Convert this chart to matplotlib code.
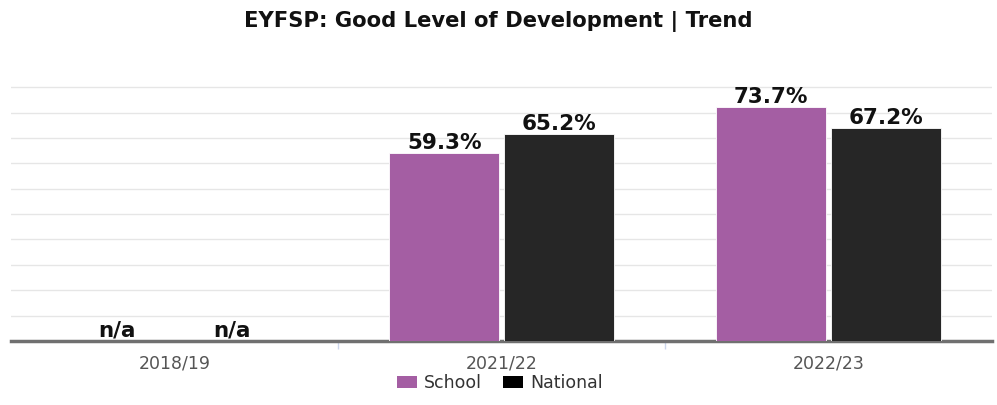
import numpy as np
import matplotlib.pyplot as plt
from matplotlib.patches import Patch

years = ["2018/19", "2021/22", "2022/23"]
school = [np.nan, 59.3, 73.7]
national = [np.nan, 65.2, 67.2]

school_color = "#a45ea3"
national_color = "#262626"

fig = plt.figure(figsize=(9.97, 4.05), dpi=100)
ax = fig.add_axes([11/997, 64/405, 981/997, 257/405])

x = np.arange(len(years))
w = 0.336
off = w/2 + 0.007

ax.bar(x - off, np.nan_to_num(school), w, color=school_color, edgecolor="white", linewidth=0.6, zorder=3)
ax.bar(x + off, np.nan_to_num(national), w, color=national_color, edgecolor="white", linewidth=0.6, zorder=3)

for xs, vals in ((x - off, school), (x + off, national)):
    for xi, v in zip(xs, vals):
        label = "n/a" if np.isnan(v) else f"{v:.1f}%"
        ax.text(xi, 0 if np.isnan(v) else v, label, ha="center", va="bottom",
                fontsize=15.5, fontweight="bold", color="#111111", zorder=4)

ax.set_xlim(-0.5, 2.5)
ax.set_ylim(0, 81)
ax.set_yticks(np.arange(8, 81, 8))
ax.yaxis.grid(True, color="#e6e6e6", linewidth=1)
ax.set_axisbelow(True)
ax.tick_params(axis="y", left=False, labelleft=False)

ax.set_xticks(x)
ax.set_xticklabels(years, fontsize=12.5, color="#555555")
ax.tick_params(axis="x", length=0, pad=10)
ax.set_xticks([0.5, 1.5], minor=True)
ax.tick_params(axis="x", which="minor", length=6, color="#ccd6eb", width=1)

for s in ("top", "right", "left"):
    ax.spines[s].set_visible(False)
ax.spines["bottom"].set_color("#707070")
ax.spines["bottom"].set_linewidth(2.5)

fig.text(0.5, 1 - 21/405, "EYFSP: Good Level of Development | Trend", ha="center", va="center",
         fontsize=15.2, fontweight="bold", color="#111111")

handles = [Patch(facecolor=school_color, label="School"), Patch(facecolor="black", label="National")]
fig.legend(handles=handles, loc="center", bbox_to_anchor=(500/997, 1 - 383/405), ncol=2, frameon=False,
           fontsize=12.5, handlelength=1.15, handleheight=0.75, handletextpad=0.4, columnspacing=1.2,
           labelcolor="#333333", borderpad=0)

plt.savefig("out.png", dpi=100)
